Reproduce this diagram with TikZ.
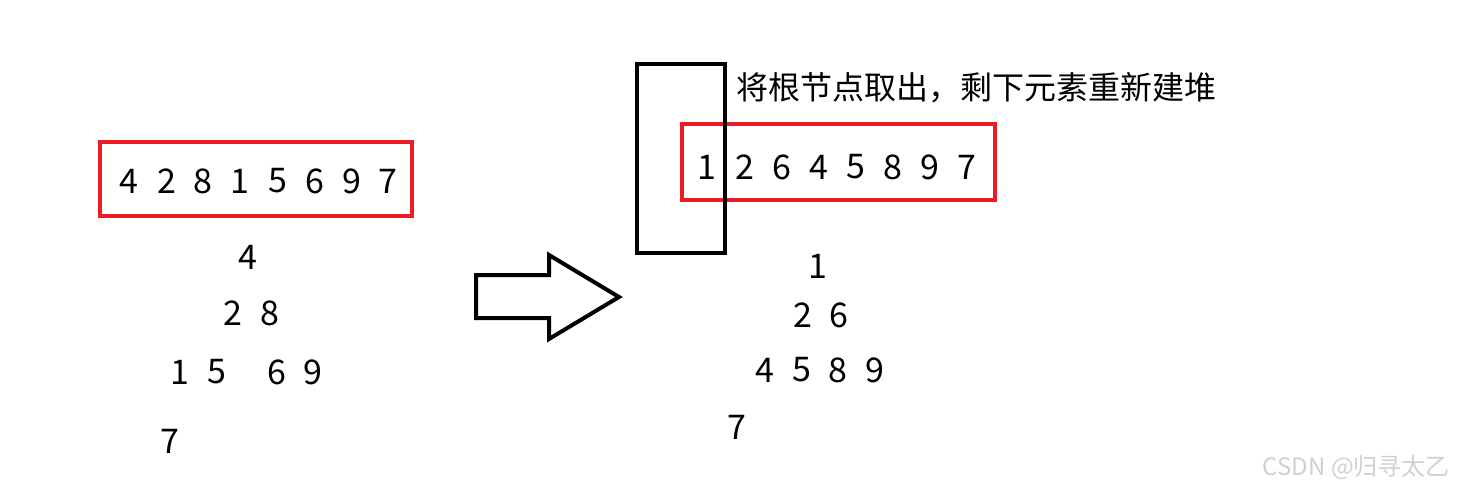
\documentclass[tikz,border=0pt]{standalone}
\usepackage{fontspec}
\setmainfont{Noto Sans CJK SC}
\definecolor{boxred}{HTML}{ED1C24}
\definecolor{wm}{HTML}{D0D0D0}
\tikzset{
  num/.style={inner sep=0pt, font=\fontsize{34}{38}\selectfont},
  captext/.style={inner sep=0pt, anchor=west, font=\fontsize{32}{36}\selectfont},
  redbox/.style={draw=boxred, line width=4pt},
  blackbox/.style={draw=black, line width=4pt},
  wmark/.style={inner sep=0pt, text=wm, font=\fontsize{24}{28}\selectfont}
}
\begin{document}
\begin{tikzpicture}[x=1pt,y=-1pt]
\useasboundingbox (0,0) rectangle (1457,495);
% left array
\draw[redbox] (100,142) rectangle (412,216);
\foreach \v/\x [count=\i] in {4/129,2/167,8/203,1/240,5/278,6/315,9/352,7/388}
  \node[num] (la\i) at (\x,181) {\v};
% left tree
\node[num] (lt1) at (248,257) {4};
\node[num] (lt2) at (233,313) {2};
\node[num] (lt3) at (270,313) {8};
\node[num] (lt4) at (180,372) {1};
\node[num] (lt5) at (217,372) {5};
\node[num] (lt6) at (277,372) {6};
\node[num] (lt7) at (313,372) {9};
\node[num] (lt8) at (170,441) {7};
% arrow
\draw[line width=4pt, line join=miter] (476,275) -- (549,275) -- (549,255) -- (619,297) -- (549,339) -- (549,318) -- (476,318) -- cycle;
% right array
\draw[redbox] (682,124) rectangle (995,200);
\draw[blackbox] (637,64) rectangle (725,253);
\node[captext] (title) at (736,88) {将根节点取出，剩下元素重新建堆};
\foreach \v/\x [count=\i] in {1/707,2/745,6/782,4/819,5/856,8/893,9/930,7/967}
  \node[num] (ra\i) at (\x,167) {\v};
% right tree
\node[num] (rt1) at (818,266) {1};
\node[num] (rt2) at (803,315) {2};
\node[num] (rt3) at (839,315) {6};
\node[num] (rt4) at (765,370) {4};
\node[num] (rt5) at (802,370) {5};
\node[num] (rt6) at (838,370) {8};
\node[num] (rt7) at (875,370) {9};
\node[num] (rt8) at (737,427) {7};
% watermark
\node[wmark, anchor=east] (wm) at (1450,468) {CSDN @归寻太乙};
\end{tikzpicture}
\end{document}
